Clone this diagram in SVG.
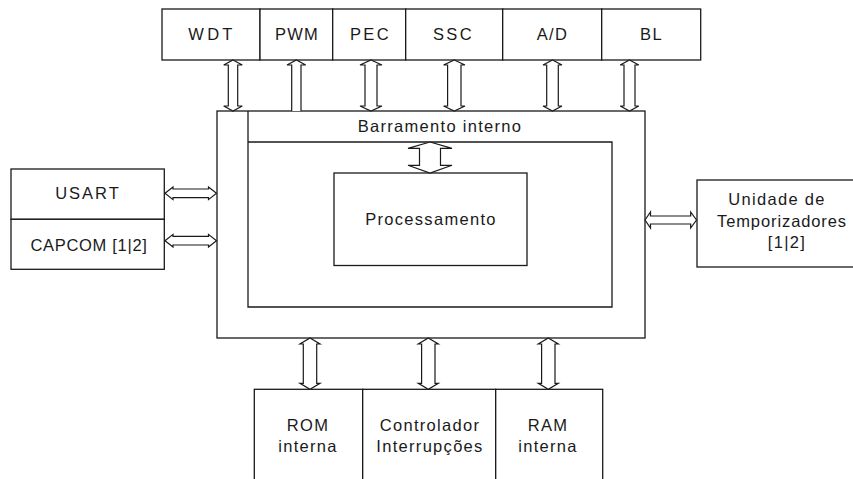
<svg xmlns="http://www.w3.org/2000/svg" width="853" height="479" viewBox="0 0 853 479">
  <style>
    .box { fill: #ffffff; stroke: #1a1a1a; stroke-width: 1.3; }
    .ln { fill: none; stroke: #1a1a1a; stroke-width: 1.3; }
    .arr { fill: #ffffff; stroke: #1a1a1a; stroke-width: 1.2; stroke-linejoin: miter; }
    text { font-family: "Liberation Sans", Arial, sans-serif; font-size: 16.5px; fill: #1a1a1a; text-anchor: middle; letter-spacing: 1.3px; }
  </style>
  <rect width="853" height="479" fill="#ffffff"/>

  <!-- Peripheral modules on top -->
  <g id="wdt"><rect class="box" x="162" y="9" width="98" height="51"/><text x="212" y="39.5" style="letter-spacing:3.3px">WDT</text></g>
  <g id="pwm"><rect class="box" x="260" y="9" width="72.7" height="51"/><text x="297" y="39.5" style="letter-spacing:1.2px">PWM</text></g>
  <g id="pec"><rect class="box" x="332.7" y="9" width="73" height="51"/><text x="370.5" y="39.5" style="letter-spacing:2.4px">PEC</text></g>
  <g id="ssc"><rect class="box" x="405.7" y="9" width="97" height="51"/><text x="453.5" y="39.5" style="letter-spacing:2.4px">SSC</text></g>
  <g id="ad"><rect class="box" x="502.7" y="9" width="99" height="51"/><text x="552.5" y="39.5">A/D</text></g>
  <g id="bl"><rect class="box" x="601.7" y="9" width="99" height="51"/><text x="651.5" y="39.5">BL</text></g>

  <!-- Internal bus frame with processing core -->
  <g id="barramento">
    <rect class="box" x="217" y="111" width="428" height="227"/>
    <path class="ln" d="M248 111 V307 H612 V142 H248"/>
    <text x="440" y="131.5">Barramento interno</text>
  </g>
  <g id="processamento">
    <rect class="box" x="334" y="173" width="193" height="92.5"/>
    <text x="431" y="225">Processamento</text>
  </g>

  <!-- Serial / capture-compare modules on the left -->
  <g id="usart"><rect class="box" x="11" y="169" width="153.3" height="50.3"/><text x="88" y="199" style="letter-spacing:2px">USART</text></g>
  <g id="capcom"><rect class="box" x="11" y="219.3" width="153.3" height="50"/><text x="89" y="250.5" style="letter-spacing:0.7px">CAPCOM [1|2]</text></g>

  <!-- Timer unit on the right -->
  <g id="temporizadores">
    <rect class="box" x="697" y="180" width="170" height="87"/>
    <text x="777" y="204.5">Unidade de</text>
    <text x="782" y="226.5" style="letter-spacing:0.9px">Temporizadores</text>
    <text x="787" y="247.5">[1|2]</text>
  </g>

  <!-- Memories and interrupt controller below -->
  <g id="rom"><rect class="box" x="254.3" y="389.3" width="108.4" height="100"/><text x="308" y="431">ROM</text><text x="308" y="452">interna</text></g>
  <g id="controlador"><rect class="box" x="362.7" y="389.3" width="133" height="100"/><text x="430" y="431">Controlador</text><text x="430" y="452">Interrupções</text></g>
  <g id="ram"><rect class="box" x="495.7" y="389.3" width="107" height="100"/><text x="548" y="431">RAM</text><text x="548" y="452">interna</text></g>

  <!-- Hollow bus arrows -->
  <g id="connectors">
    <!-- top: peripherals to internal bus -->
    <path class="arr" d="M233 60 L242.3 65 L237.7 65 L237.7 106 L242.3 106 L233 111 L223.7 106 L228.3 106 L228.3 65 L223.7 65 Z"/>
    <path class="arr" d="M291.7 111 L291.7 65 L287 65 L296.4 60 L305.7 65 L301 65 L301 111"/>
    <path class="arr" d="M371 60 L382 65 L377 65 L377 106 L382 106 L371 111 L360 106 L365 106 L365 65 L360 65 Z"/>
    <path class="arr" d="M454.3 60 L465 65 L461 65 L461 106 L465 106 L454.3 111 L443.6 106 L447.6 106 L447.6 65 L443.6 65 Z"/>
    <path class="arr" d="M552.5 60 L562 65 L558.3 65 L558.3 106 L562 106 L552.5 111 L543 106 L546.7 106 L546.7 65 L543 65 Z"/>
    <path class="arr" d="M629.5 60 L638.8 65 L635 65 L635 106 L638.8 106 L629.5 111 L620.2 106 L624 106 L624 65 L620.2 65 Z"/>
    <!-- bus to processing core -->
    <path class="arr" d="M430 142 L452 148.3 L440.5 148.3 L440.5 165.3 L452 165.3 L430 173 L408 165.3 L419.5 165.3 L419.5 148.3 L408 148.3 Z"/>
    <!-- left: USART and CAPCOM -->
    <path class="arr" d="M165 193.3 L173 187 L173 189 L208.5 189 L208.5 187 L216.5 193.3 L208.5 199.6 L208.5 197.6 L173 197.6 L173 199.6 Z"/>
    <path class="arr" d="M165 240.7 L173 234.4 L173 236.4 L208.5 236.4 L208.5 234.4 L216.5 240.7 L208.5 247 L208.5 245 L173 245 L173 247 Z"/>
    <!-- right: timer unit -->
    <path class="arr" d="M645 220 L650.5 212 L650.5 216 L690.7 216 L690.7 212 L696.5 220 L690.7 228 L690.7 224 L650.5 224 L650.5 228 Z"/>
    <!-- bottom: memories and interrupt controller -->
    <path class="arr" d="M310 338 L320 344 L316.7 344 L316.7 383.3 L320 383.3 L310 389.3 L300 383.3 L303.3 383.3 L303.3 344 L300 344 Z"/>
    <path class="arr" d="M428.3 338 L438.3 344 L435 344 L435 383.3 L438.3 383.3 L428.3 389.3 L418.3 383.3 L421.6 383.3 L421.6 344 L418.3 344 Z"/>
    <path class="arr" d="M548.3 338 L558.3 344 L555 344 L555 383.3 L558.3 383.3 L548.3 389.3 L538.3 383.3 L541.6 383.3 L541.6 344 L538.3 344 Z"/>
  </g>
</svg>
